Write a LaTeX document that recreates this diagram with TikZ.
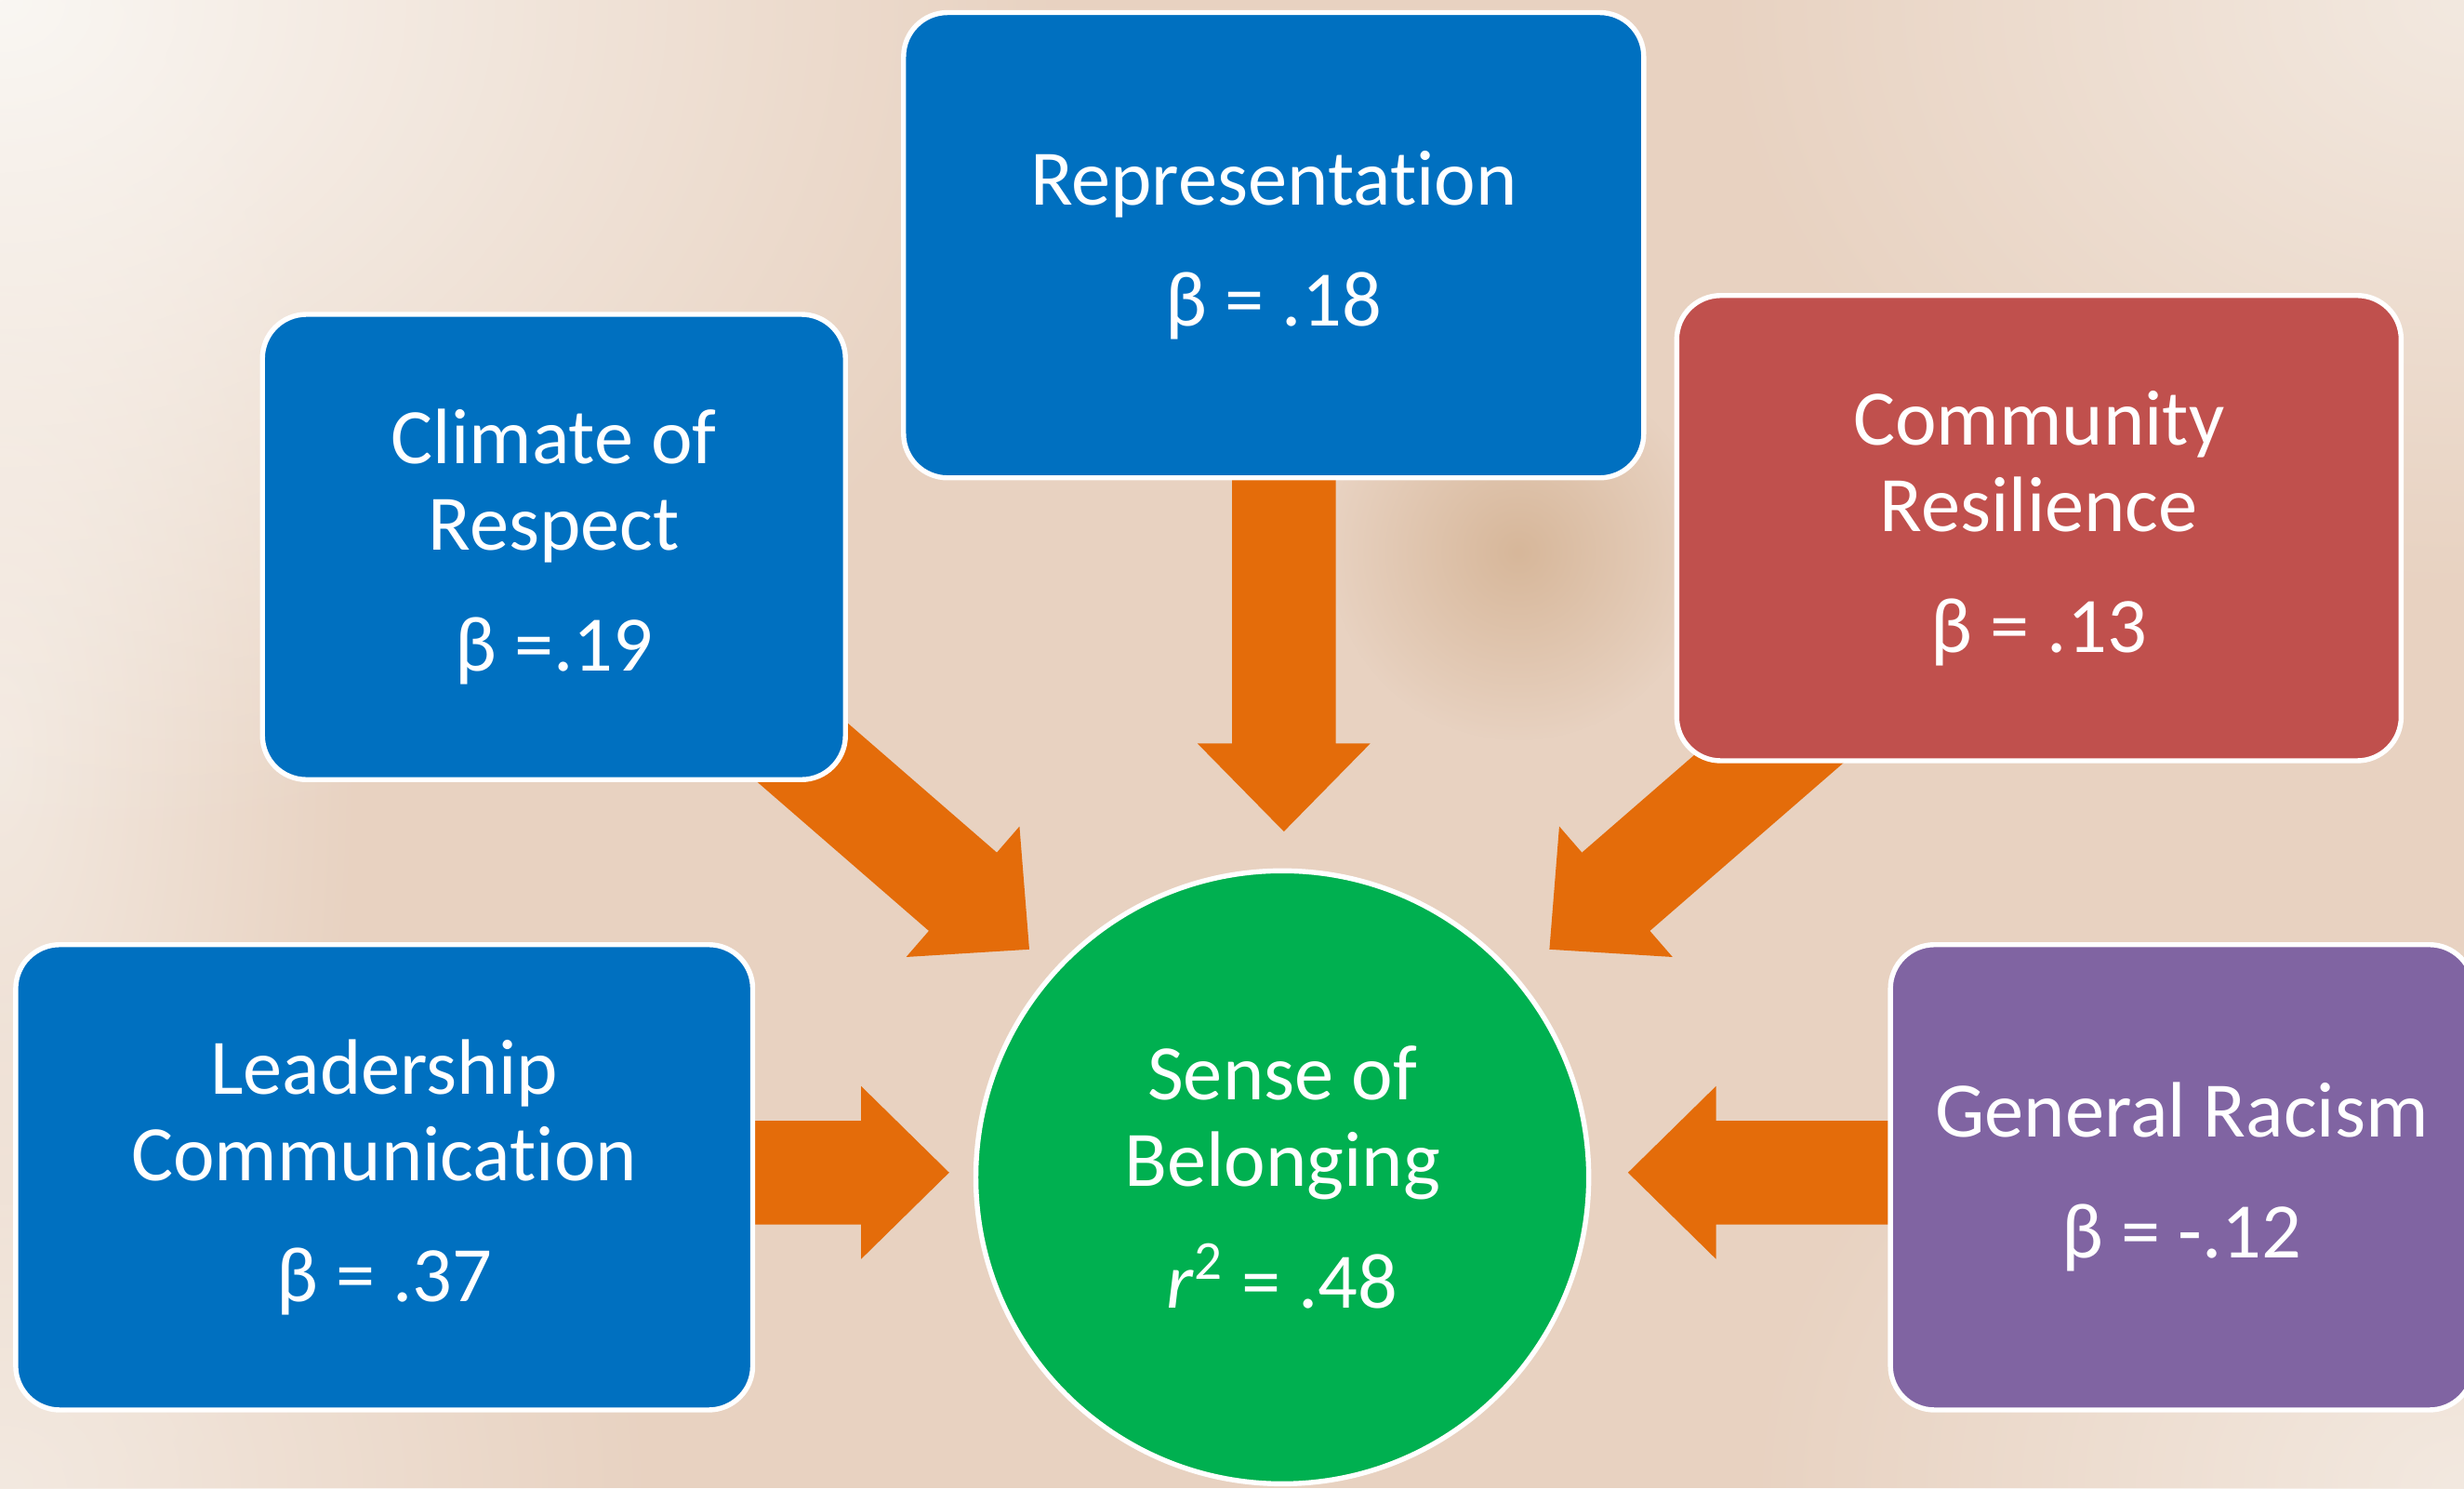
\documentclass[tikz,border=0pt]{standalone}
\usepackage{fontspec}
\setmainfont{Carlito}[Ligatures={NoCommon,NoContextual,NoRequired}]
\usetikzlibrary{calc,fadings}
\definecolor{bluebox}{HTML}{0070C0}
\definecolor{redbox}{HTML}{C0504D}
\definecolor{purplebox}{HTML}{8064A2}
\definecolor{greencirc}{HTML}{00B050}
\definecolor{arroworange}{HTML}{E46C0A}
\definecolor{bgbase}{HTML}{E8D2C1}
\definecolor{bglight}{HTML}{FAF7F3}
\definecolor{bglighttwo}{HTML}{F3E9E0}
\definecolor{bgblob}{HTML}{D7B79A}
\tikzfading[name=softglow, inner color=transparent!0, outer color=transparent!100]
\pgfdeclarelayer{backlayer}
\pgfdeclarelayer{arrowlayer}
\pgfsetlayers{backlayer,arrowlayer,main}
\newcommand{\nolig}{\kern0pt }
% block arrow from #1 (start) to #2 (tip)
\newcommand{\blockarrow}[2]{%
  \path ($(#2)!28pt!(#1)$) coordinate (nk);
  \fill[arrowfill] ($(#1)!16.5pt!90:(#2)$) -- ($(nk)!16.5pt!-90:(#1)$)
    -- ($(nk)!27.5pt!-90:(#1)$) -- (#2) -- ($(nk)!27.5pt!90:(#1)$)
    -- ($(nk)!16.5pt!90:(#1)$) -- ($(#1)!16.5pt!-90:(#2)$) -- cycle;}
\begin{document}
\begin{tikzpicture}[x=0.5pt,y=-0.5pt,
  box/.style={draw=white, line width=1.6pt, rounded corners=14pt,
    minimum height=148pt, text=white, align=center, inner sep=0pt,
    font=\fontsize{25}{27.5}\selectfont},
  bluenode/.style={box, fill=bluebox},
  rednode/.style={box, fill=redbox},
  purplenode/.style={box, fill=purplebox},
  outcome/.style={circle, draw=white, line width=1.6pt, fill=greencirc,
    minimum size=195pt, text=white, align=center, inner sep=0pt,
    font=\fontsize{25}{27.5}\selectfont},
  arrowfill/.style={fill=arroworange}]
\useasboundingbox (0,0) rectangle (1568,947);
\begin{pgfonlayer}{backlayer}
  \fill[bgbase] (0,0) rectangle (1568,947);
  \fill[bglighttwo, path fading=softglow] (0,480) ellipse (230 and 560);
  \fill[bglight, path fading=softglow] (0,0) ellipse (680 and 540);
  \fill[bglighttwo, path fading=softglow] (1568,0) ellipse (480 and 380);
  \fill[bglighttwo, path fading=softglow] (0,947) ellipse (420 and 360);
  \fill[bglighttwo, path fading=softglow] (1568,947) ellipse (460 and 360);
  \fill[bgblob, path fading=softglow] (966,351) circle (120);
\end{pgfonlayer}

\node[bluenode, minimum width=235.5pt] (rep) at (810.5,156)
  {Representat\nolig ion\\[11pt]β = .18};
\node[bluenode, minimum width=185.5pt] (clim) at (352.5,348)
  {Climate of\\Respect\\[11pt]β =.19};
\node[rednode, minimum width=230.5pt] (comm) at (1297.5,336)
  {Community\\Resilience\\[11pt]β = .13};
\node[bluenode, minimum width=234.5pt] (lead) at (244.5,749)
  {Leadership\\Communicat\nolig ion\\[11pt]β = .37};
\node[purplenode, minimum width=185.5pt] (gen) at (1388.5,749)
  {General Racism\\[11pt]β = -.12};
\node[outcome] (sob) at (816,749)
  {Sense of\\Belonging\\[11pt]\textit{r}\textsuperscript{2} = .48};

\coordinate (t1) at (817,529);
\coordinate (t2) at (655,604);
\coordinate (t3) at (986,604);
\coordinate (t4) at (604,746);
\coordinate (t5) at (1036,746);
\coordinate (s1) at (t1 |- rep.center);
\coordinate (s2) at (466,440);
\coordinate (s3) at (1175,440);
\coordinate (s4) at (lead.center |- t4);
\coordinate (s5) at (gen.center |- t5);
\begin{pgfonlayer}{arrowlayer}
  \blockarrow{s1}{t1}
  \blockarrow{s2}{t2}
  \blockarrow{s3}{t3}
  \blockarrow{s4}{t4}
  \blockarrow{s5}{t5}
\end{pgfonlayer}
\end{tikzpicture}
\end{document}
